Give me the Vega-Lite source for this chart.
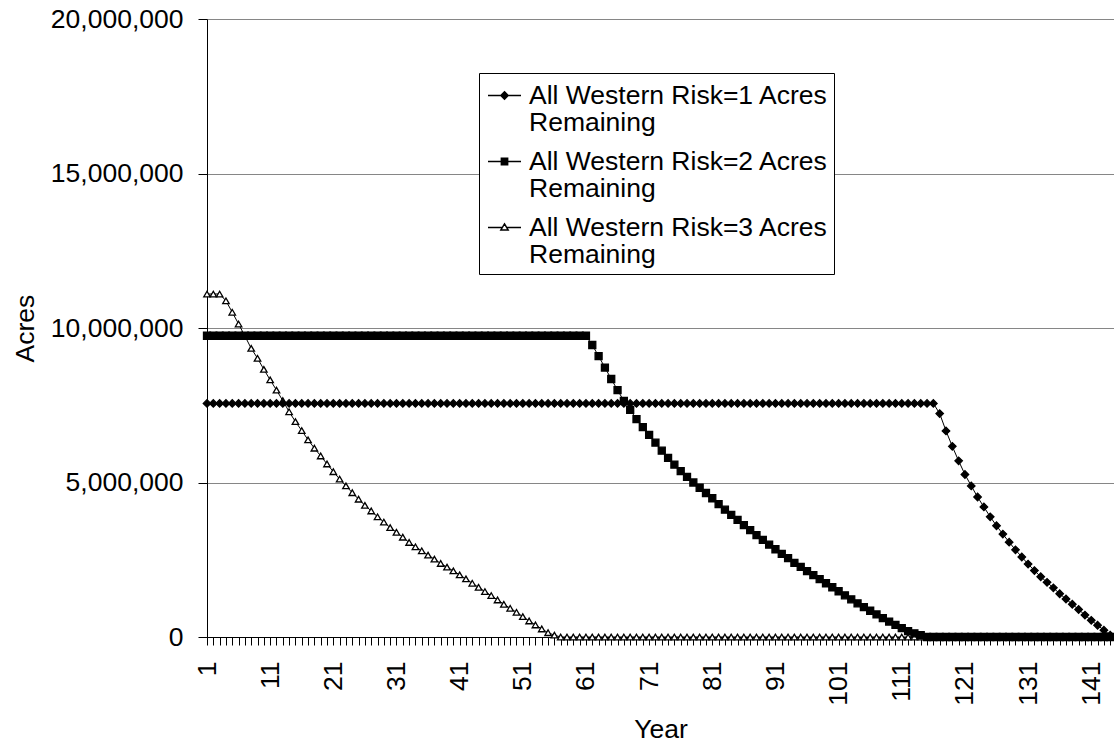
{
  "$schema": "https://vega.github.io/schema/vega-lite/v6.json",
  "width": 907,
  "height": 618,
  "autosize": {"type": "none"},
  "padding": {"left": 207, "top": 19, "right": 0, "bottom": 109},
  "background": "white",
  "config": {
    "font": "Liberation Sans",
    "view": {"stroke": null},
    "style": {"guide-label": {"lineHeight": 27.5}},
    "axis": {
      "labelFontSize": 26.5,
      "titleFontSize": 26.5,
      "titleFontWeight": "normal",
      "labelColor": "black",
      "titleColor": "black",
      "domainColor": "black",
      "tickColor": "black"
    }
  },
  "data": {
    "values": [
      {"year": 1, "r1": 7560000, "r2": 9750000, "r3": 11100000},
      {"year": 2, "r1": 7560000, "r2": 9750000, "r3": 11100000},
      {"year": 3, "r1": 7560000, "r2": 9750000, "r3": 11100000},
      {"year": 4, "r1": 7560000, "r2": 9750000, "r3": 10880000},
      {"year": 5, "r1": 7560000, "r2": 9750000, "r3": 10510000},
      {"year": 6, "r1": 7560000, "r2": 9750000, "r3": 10130000},
      {"year": 7, "r1": 7560000, "r2": 9750000, "r3": 9740000},
      {"year": 8, "r1": 7560000, "r2": 9750000, "r3": 9340000},
      {"year": 9, "r1": 7560000, "r2": 9750000, "r3": 9020000},
      {"year": 10, "r1": 7560000, "r2": 9750000, "r3": 8660000},
      {"year": 11, "r1": 7560000, "r2": 9750000, "r3": 8320000},
      {"year": 12, "r1": 7560000, "r2": 9750000, "r3": 7990000},
      {"year": 13, "r1": 7560000, "r2": 9750000, "r3": 7650000},
      {"year": 14, "r1": 7560000, "r2": 9750000, "r3": 7290000},
      {"year": 15, "r1": 7560000, "r2": 9750000, "r3": 6970000},
      {"year": 16, "r1": 7560000, "r2": 9750000, "r3": 6680000},
      {"year": 17, "r1": 7560000, "r2": 9750000, "r3": 6380000},
      {"year": 18, "r1": 7560000, "r2": 9750000, "r3": 6110000},
      {"year": 19, "r1": 7560000, "r2": 9750000, "r3": 5860000},
      {"year": 20, "r1": 7560000, "r2": 9750000, "r3": 5600000},
      {"year": 21, "r1": 7560000, "r2": 9750000, "r3": 5350000},
      {"year": 22, "r1": 7560000, "r2": 9750000, "r3": 5110000},
      {"year": 23, "r1": 7560000, "r2": 9750000, "r3": 4890000},
      {"year": 24, "r1": 7560000, "r2": 9750000, "r3": 4670000},
      {"year": 25, "r1": 7560000, "r2": 9750000, "r3": 4460000},
      {"year": 26, "r1": 7560000, "r2": 9750000, "r3": 4260000},
      {"year": 27, "r1": 7560000, "r2": 9750000, "r3": 4080000},
      {"year": 28, "r1": 7560000, "r2": 9750000, "r3": 3890000},
      {"year": 29, "r1": 7560000, "r2": 9750000, "r3": 3720000},
      {"year": 30, "r1": 7560000, "r2": 9750000, "r3": 3540000},
      {"year": 31, "r1": 7560000, "r2": 9750000, "r3": 3390000},
      {"year": 32, "r1": 7560000, "r2": 9750000, "r3": 3230000},
      {"year": 33, "r1": 7560000, "r2": 9750000, "r3": 3060000},
      {"year": 34, "r1": 7560000, "r2": 9750000, "r3": 2920000},
      {"year": 35, "r1": 7560000, "r2": 9750000, "r3": 2790000},
      {"year": 36, "r1": 7560000, "r2": 9750000, "r3": 2650000},
      {"year": 37, "r1": 7560000, "r2": 9750000, "r3": 2520000},
      {"year": 38, "r1": 7560000, "r2": 9750000, "r3": 2380000},
      {"year": 39, "r1": 7560000, "r2": 9750000, "r3": 2260000},
      {"year": 40, "r1": 7560000, "r2": 9750000, "r3": 2140000},
      {"year": 41, "r1": 7560000, "r2": 9750000, "r3": 2010000},
      {"year": 42, "r1": 7560000, "r2": 9750000, "r3": 1880000},
      {"year": 43, "r1": 7560000, "r2": 9750000, "r3": 1740000},
      {"year": 44, "r1": 7560000, "r2": 9750000, "r3": 1610000},
      {"year": 45, "r1": 7560000, "r2": 9750000, "r3": 1470000},
      {"year": 46, "r1": 7560000, "r2": 9750000, "r3": 1340000},
      {"year": 47, "r1": 7560000, "r2": 9750000, "r3": 1200000},
      {"year": 48, "r1": 7560000, "r2": 9750000, "r3": 1060000},
      {"year": 49, "r1": 7560000, "r2": 9750000, "r3": 930000},
      {"year": 50, "r1": 7560000, "r2": 9750000, "r3": 800000},
      {"year": 51, "r1": 7560000, "r2": 9750000, "r3": 660000},
      {"year": 52, "r1": 7560000, "r2": 9750000, "r3": 520000},
      {"year": 53, "r1": 7560000, "r2": 9750000, "r3": 390000},
      {"year": 54, "r1": 7560000, "r2": 9750000, "r3": 260000},
      {"year": 55, "r1": 7560000, "r2": 9750000, "r3": 140000},
      {"year": 56, "r1": 7560000, "r2": 9750000, "r3": 60000},
      {"year": 57, "r1": 7560000, "r2": 9750000, "r3": 0},
      {"year": 58, "r1": 7560000, "r2": 9750000, "r3": 0},
      {"year": 59, "r1": 7560000, "r2": 9750000, "r3": 0},
      {"year": 60, "r1": 7560000, "r2": 9750000, "r3": 0},
      {"year": 61, "r1": 7560000, "r2": 9750000, "r3": 0},
      {"year": 62, "r1": 7560000, "r2": 9450000, "r3": 0},
      {"year": 63, "r1": 7560000, "r2": 9090000, "r3": 0},
      {"year": 64, "r1": 7560000, "r2": 8720000, "r3": 0},
      {"year": 65, "r1": 7560000, "r2": 8350000, "r3": 0},
      {"year": 66, "r1": 7560000, "r2": 7990000, "r3": 0},
      {"year": 67, "r1": 7560000, "r2": 7640000, "r3": 0},
      {"year": 68, "r1": 7560000, "r2": 7350000, "r3": 0},
      {"year": 69, "r1": 7560000, "r2": 7050000, "r3": 0},
      {"year": 70, "r1": 7560000, "r2": 6790000, "r3": 0},
      {"year": 71, "r1": 7560000, "r2": 6540000, "r3": 0},
      {"year": 72, "r1": 7560000, "r2": 6290000, "r3": 0},
      {"year": 73, "r1": 7560000, "r2": 6030000, "r3": 0},
      {"year": 74, "r1": 7560000, "r2": 5800000, "r3": 0},
      {"year": 75, "r1": 7560000, "r2": 5580000, "r3": 0},
      {"year": 76, "r1": 7560000, "r2": 5370000, "r3": 0},
      {"year": 77, "r1": 7560000, "r2": 5180000, "r3": 0},
      {"year": 78, "r1": 7560000, "r2": 5000000, "r3": 0},
      {"year": 79, "r1": 7560000, "r2": 4830000, "r3": 0},
      {"year": 80, "r1": 7560000, "r2": 4660000, "r3": 0},
      {"year": 81, "r1": 7560000, "r2": 4490000, "r3": 0},
      {"year": 82, "r1": 7560000, "r2": 4300000, "r3": 0},
      {"year": 83, "r1": 7560000, "r2": 4120000, "r3": 0},
      {"year": 84, "r1": 7560000, "r2": 3950000, "r3": 0},
      {"year": 85, "r1": 7560000, "r2": 3790000, "r3": 0},
      {"year": 86, "r1": 7560000, "r2": 3620000, "r3": 0},
      {"year": 87, "r1": 7560000, "r2": 3460000, "r3": 0},
      {"year": 88, "r1": 7560000, "r2": 3300000, "r3": 0},
      {"year": 89, "r1": 7560000, "r2": 3140000, "r3": 0},
      {"year": 90, "r1": 7560000, "r2": 2990000, "r3": 0},
      {"year": 91, "r1": 7560000, "r2": 2840000, "r3": 0},
      {"year": 92, "r1": 7560000, "r2": 2690000, "r3": 0},
      {"year": 93, "r1": 7560000, "r2": 2550000, "r3": 0},
      {"year": 94, "r1": 7560000, "r2": 2400000, "r3": 0},
      {"year": 95, "r1": 7560000, "r2": 2270000, "r3": 0},
      {"year": 96, "r1": 7560000, "r2": 2130000, "r3": 0},
      {"year": 97, "r1": 7560000, "r2": 2000000, "r3": 0},
      {"year": 98, "r1": 7560000, "r2": 1870000, "r3": 0},
      {"year": 99, "r1": 7560000, "r2": 1740000, "r3": 0},
      {"year": 100, "r1": 7560000, "r2": 1610000, "r3": 0},
      {"year": 101, "r1": 7560000, "r2": 1480000, "r3": 0},
      {"year": 102, "r1": 7560000, "r2": 1350000, "r3": 0},
      {"year": 103, "r1": 7560000, "r2": 1220000, "r3": 0},
      {"year": 104, "r1": 7560000, "r2": 1090000, "r3": 0},
      {"year": 105, "r1": 7560000, "r2": 970000, "r3": 0},
      {"year": 106, "r1": 7560000, "r2": 850000, "r3": 0},
      {"year": 107, "r1": 7560000, "r2": 730000, "r3": 0},
      {"year": 108, "r1": 7560000, "r2": 610000, "r3": 0},
      {"year": 109, "r1": 7560000, "r2": 500000, "r3": 0},
      {"year": 110, "r1": 7560000, "r2": 390000, "r3": 0},
      {"year": 111, "r1": 7560000, "r2": 290000, "r3": 0},
      {"year": 112, "r1": 7560000, "r2": 190000, "r3": 0},
      {"year": 113, "r1": 7560000, "r2": 120000, "r3": 0},
      {"year": 114, "r1": 7560000, "r2": 60000, "r3": 0},
      {"year": 115, "r1": 7560000, "r2": 0, "r3": 0},
      {"year": 116, "r1": 7560000, "r2": 0, "r3": 0},
      {"year": 117, "r1": 7230000, "r2": 0, "r3": 0},
      {"year": 118, "r1": 6670000, "r2": 0, "r3": 0},
      {"year": 119, "r1": 6170000, "r2": 0, "r3": 0},
      {"year": 120, "r1": 5700000, "r2": 0, "r3": 0},
      {"year": 121, "r1": 5260000, "r2": 0, "r3": 0},
      {"year": 122, "r1": 4890000, "r2": 0, "r3": 0},
      {"year": 123, "r1": 4530000, "r2": 0, "r3": 0},
      {"year": 124, "r1": 4210000, "r2": 0, "r3": 0},
      {"year": 125, "r1": 3890000, "r2": 0, "r3": 0},
      {"year": 126, "r1": 3600000, "r2": 0, "r3": 0},
      {"year": 127, "r1": 3330000, "r2": 0, "r3": 0},
      {"year": 128, "r1": 3070000, "r2": 0, "r3": 0},
      {"year": 129, "r1": 2820000, "r2": 0, "r3": 0},
      {"year": 130, "r1": 2590000, "r2": 0, "r3": 0},
      {"year": 131, "r1": 2360000, "r2": 0, "r3": 0},
      {"year": 132, "r1": 2150000, "r2": 0, "r3": 0},
      {"year": 133, "r1": 1950000, "r2": 0, "r3": 0},
      {"year": 134, "r1": 1770000, "r2": 0, "r3": 0},
      {"year": 135, "r1": 1590000, "r2": 0, "r3": 0},
      {"year": 136, "r1": 1400000, "r2": 0, "r3": 0},
      {"year": 137, "r1": 1230000, "r2": 0, "r3": 0},
      {"year": 138, "r1": 1060000, "r2": 0, "r3": 0},
      {"year": 139, "r1": 890000, "r2": 0, "r3": 0},
      {"year": 140, "r1": 710000, "r2": 0, "r3": 0},
      {"year": 141, "r1": 540000, "r2": 0, "r3": 0},
      {"year": 142, "r1": 380000, "r2": 0, "r3": 0},
      {"year": 143, "r1": 220000, "r2": 0, "r3": 0},
      {"year": 144, "r1": 60000, "r2": 0, "r3": 0}
    ]
  },
  "transform": [{"fold": ["r1", "r2", "r3"], "as": ["risk", "acres"]}],
  "encoding": {
    "x": {
      "field": "year",
      "type": "quantitative",
      "title": "Year",
      "scale": {"domain": [1, 144.6], "nice": false, "zero": false},
      "axis": {
        "tickCount": 144,
        "format": "d",
        "labelExpr": "datum.value % 10 == 1 ? datum.label : ''",
        "labelOverlap": false,
        "labelFlush": false,
        "labelAngle": -90,
        "labelPadding": 16,
        "tickSize": 8,
        "grid": false,
        "titlePadding": 11
      }
    },
    "y": {
      "field": "acres",
      "type": "quantitative",
      "title": "Acres",
      "scale": {"domain": [0, 20000000], "nice": false},
      "axis": {
        "values": [0, 5000000, 10000000, 15000000, 20000000],
        "format": ",d",
        "grid": true,
        "gridColor": "#868686",
        "tickSize": 9,
        "labelPadding": 15,
        "titlePadding": 11
      }
    }
  },
  "layer": [
    {
      "mark": {"type": "line", "color": "black", "strokeWidth": 1},
      "encoding": {"detail": {"field": "risk", "type": "nominal"}}
    },
    {
      "mark": {"type": "point", "stroke": "black", "strokeWidth": 1.3, "opacity": 1},
      "encoding": {
        "shape": {
          "field": "risk",
          "type": "nominal",
          "scale": {"domain": ["r1", "r2", "r3"], "range": ["diamond", "square", "triangle-up"]},
          "legend": null
        },
        "fill": {
          "field": "risk",
          "type": "nominal",
          "scale": {"domain": ["r1", "r2", "r3"], "range": ["black", "black", "white"]},
          "legend": null
        },
        "size": {
          "field": "risk",
          "type": "ordinal",
          "scale": {"domain": ["r1", "r2", "r3"], "range": [56, 42, 58]},
          "legend": null
        },
        "order": {"field": "risk", "sort": "descending"}
      }
    },
    {
      "transform": [{"filter": "datum.year == 1"}],
      "mark": {"type": "point", "opacity": 0, "size": 1089},
      "encoding": {
        "shape": {
          "field": "risk",
          "type": "nominal",
          "scale": {
            "domain": ["r1", "r2", "r3"],
            "range": [
              "M-1,0H1M0,-0.22L0.22,0L0,0.22L-0.22,0ZM0,-0.16L0.16,0L0,0.16L-0.16,0ZM0,-0.1L0.1,0L0,0.1L-0.1,0ZM0,-0.04L0.04,0L0,0.04L-0.04,0Z",
              "M-1,0H1M-0.19,-0.19H0.19V0.19H-0.19ZM-0.13,-0.13H0.13V0.13H-0.13ZM-0.07,-0.07H0.07V0.07H-0.07ZM-0.02,-0.02H0.02V0.02H-0.02Z",
              "M-1,0H-0.13M0.13,0H1M0,-0.22L0.22,0.15L-0.22,0.15Z"
            ]
          },
          "legend": {
            "orient": "none",
            "legendX": 272,
            "legendY": 54,
            "title": null,
            "strokeColor": "black",
            "fillColor": "white",
            "padding": 5,
            "symbolOffset": 3,
            "labelFontSize": 26.5,
            "labelColor": "black",
            "labelLimit": 600,
            "labelOffset": 7,
            "symbolSize": 1089,
            "symbolOpacity": 1,
            "symbolStrokeColor": "black",
            "symbolStrokeWidth": 1.5,
            "rowPadding": 7,
            "labelExpr": "['All Western Risk=' + slice(datum.label, 1) + ' Acres', 'Remaining']"
          }
        }
      }
    }
  ],
  "resolve": {"scale": {"shape": "independent"}, "legend": {"shape": "independent"}}
}
